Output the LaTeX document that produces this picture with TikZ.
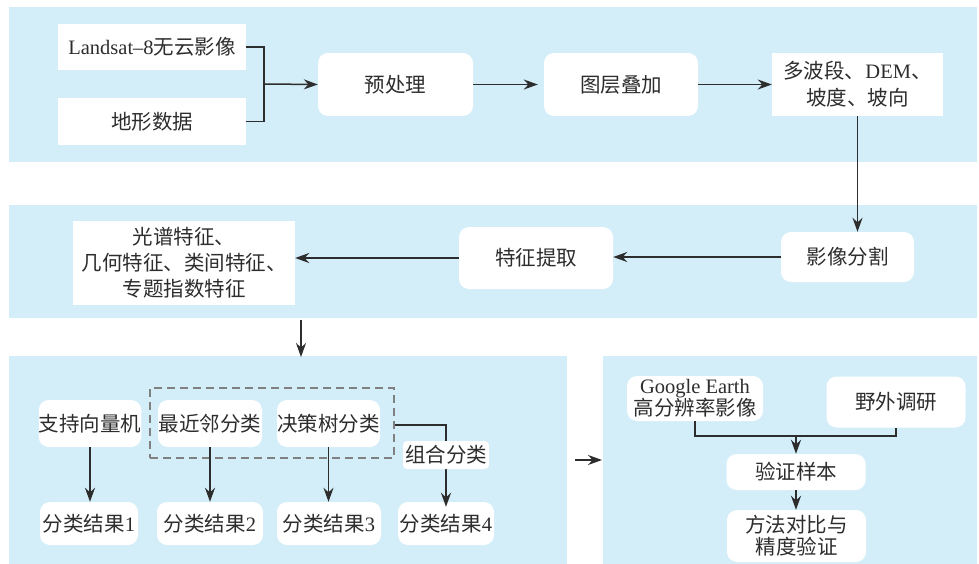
\documentclass[tikz,border=0pt]{standalone}
\usepackage{fontspec}
\setmainfont{Liberation Serif}
\newfontfamily\cjk{Noto Sans CJK SC}
\usetikzlibrary{arrows.meta}
\definecolor{bandblue}{RGB}{211,237,249}
\definecolor{ink}{RGB}{45,45,45}
\tikzset{
  band/.style={fill=bandblue, draw=none},
  rbox/.style={fill=white, draw=none, rounded corners=10pt, align=center, inner sep=0pt, text=ink, font=\fontsize{20.5}{26}\selectfont},
  sbox/.style={fill=white, draw=none, align=center, inner sep=0pt, text=ink, font=\fontsize{20.5}{26}\selectfont},
  conn/.style={draw=ink, line width=1.5pt},
  arr/.style={conn, -{Stealth[length=14pt,width=10pt]}},
  dashbox/.style={draw=gray, dashed, dash pattern=on 8pt off 5pt, line width=1.3pt, fill=none, inner sep=0pt}
}
\begin{document}
\begin{tikzpicture}[x=1pt,y=-1pt]
\useasboundingbox (0,0) rectangle (979,564);
\fill[white] (0,0) rectangle (979,564);
% bands
\fill[band] (9,7) rectangle (977,162);
\fill[band] (9,205) rectangle (977,318);
\fill[band] (9,356) rectangle (567,564);
\fill[band] (603,356) rectangle (977,564);

% band 1
\node[sbox, minimum width=188pt, minimum height=46pt] (landsat) at (152,47) {Landsat–8{\cjk 无云影像}};
\node[sbox, minimum width=188pt, minimum height=47pt] (dixing) at (152,121.5) {\cjk 地形数据};
\node[rbox, minimum width=155pt, minimum height=63pt] (yuchuli) at (395.5,84.5) {\cjk 预处理};
\node[rbox, minimum width=154pt, minimum height=63pt] (tuceng) at (621,84.5) {\cjk 图层叠加};
\node[sbox, minimum width=171pt, minimum height=63pt, font=\fontsize{20.5}{27}\selectfont] (duo) at (857.5,84.5) {{\cjk 多波段、}DEM{\cjk 、}\\{\cjk 坡度、坡向}};
\coordinate (j1) at (264,84);
\draw[conn] (landsat.east) -| (j1) |- (dixing.east);
\draw[arr] (j1) -- (yuchuli.west);
\draw[arr] (yuchuli.east) -- ([xshift=-6pt]tuceng.west);
\draw[arr] (tuceng.east) -- (duo.west);

% band 2
\node[rbox, minimum width=133pt, minimum height=50pt] (fenge) at (847.5,257) {\cjk 影像分割};
\node[rbox, minimum width=154pt, minimum height=62pt] (tiqu) at (536,258) {\cjk 特征提取};
\node[sbox, minimum width=222pt, minimum height=84pt, font=\fontsize{20.5}{26}\selectfont] (guangpu) at (184,263) {\cjk 光谱特征、\\\cjk 几何特征、类间特征、\\\cjk 专题指数特征};
\draw[arr] (duo.south) -- (duo.south |- fenge.north);
\draw[arr] (fenge.west) -- (fenge.west -| tiqu.east);
\draw[arr] (tiqu.west) -- (tiqu.west -| guangpu.east);
\coordinate (d1) at (301,320);
\coordinate (d2) at (301,357);
\draw[arr] (d1) -- (d2);

% band 3
\node[rbox, minimum width=100pt, minimum height=47pt] (svm) at (90,423.5) {\cjk 支持向量机};
\node[rbox, minimum width=104pt, minimum height=47pt] (knn) at (210,423.5) {\cjk 最近邻分类};
\node[rbox, minimum width=103pt, minimum height=47pt] (dt) at (328.5,423.5) {\cjk 决策树分类};
\node[dashbox, minimum width=244pt, minimum height=70pt] (grp) at (272,423) {};
\node[rbox, minimum width=98pt, minimum height=43pt] (r1) at (89,523.5) {{\cjk 分类结果}1};
\node[rbox, minimum width=106pt, minimum height=43pt] (r2) at (210,523.5) {{\cjk 分类结果}2};
\node[rbox, minimum width=104pt, minimum height=43pt] (r3) at (329,523.5) {{\cjk 分类结果}3};
\node[rbox, minimum width=96pt, minimum height=43pt] (r4) at (446,523.5) {{\cjk 分类结果}4};
\draw[arr] (svm.south) -- (r1.north -| svm.south);
\draw[arr] (knn.south) -- (r2.north -| knn.south);
\draw[arr] (dt.south) -- (r3.north -| dt.south);
\draw[arr] ([yshift=-2pt]grp.east) -| ([yshift=-5pt]r4.north);
\node[rbox, rounded corners=4pt, minimum width=86pt, minimum height=28pt] (zuhe) at (446,455) {\cjk 组合分类};

% link to band 4
\coordinate (e1) at (575,460);
\coordinate (e2) at (602,460);
\draw[arr] (e1) -- (e2);

% band 4
\node[rbox, minimum width=136pt, minimum height=45pt, font=\fontsize{20.5}{22}\selectfont] (ge) at (695,398.5) {Google Earth\\\cjk 高分辨率影像};
\node[rbox, minimum width=139pt, minimum height=51pt] (yewai) at (896,402) {\cjk 野外调研};
\node[rbox, minimum width=139pt, minimum height=36pt] (yzyb) at (796,472) {\cjk 验证样本};
\node[rbox, minimum width=139pt, minimum height=52pt, font=\fontsize{20.5}{22}\selectfont] (ff) at (796.5,536) {\cjk 方法对比与\\\cjk 精度验证};
\coordinate (j2) at (796,436);
\draw[conn] (ge.south) |- (j2) -| (yewai.south);
\draw[arr] (j2) -- (yzyb.north);
\draw[arr] (yzyb.south) -- (ff.north -| yzyb.south);
\end{tikzpicture}
\end{document}
